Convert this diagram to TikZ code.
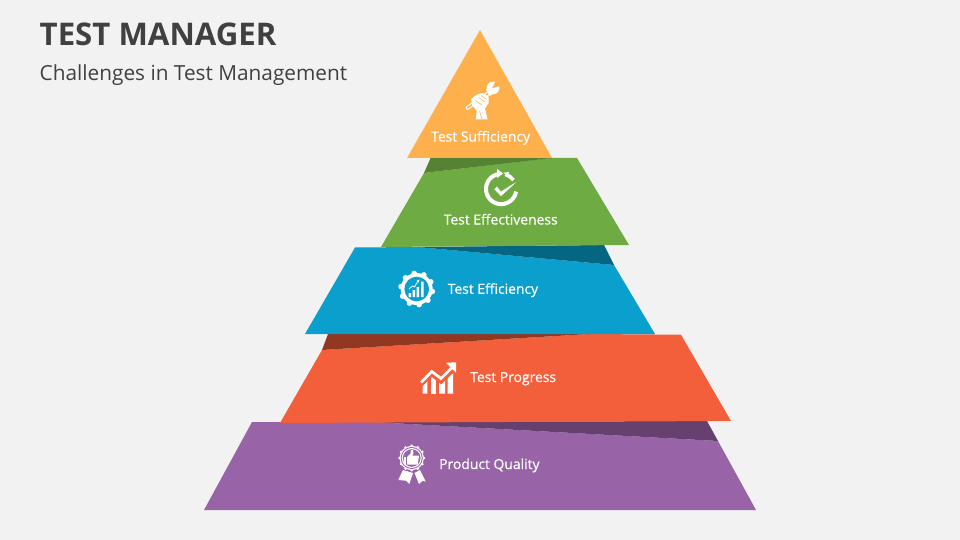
\documentclass[tikz,border=0pt]{standalone}
\usepackage{fontspec}
\setmainfont{Open Sans}
\newfontfamily\lblfont{Open Sans}[FakeBold=0.5]
\definecolor{bgc}{HTML}{F2F2F2}
\definecolor{tc}{HTML}{404040}
\definecolor{oc}{HTML}{FDB04B}
\definecolor{gc}{HTML}{6FAB43}
\definecolor{gd}{HTML}{568234}
\definecolor{bc}{HTML}{0A9FCD}
\definecolor{bd}{HTML}{056684}
\definecolor{rc}{HTML}{F45F3B}
\definecolor{rd}{HTML}{923822}
\definecolor{pc}{HTML}{9963A8}
\definecolor{pd}{HTML}{66406F}
\tikzset{
  tierlabel/.style={text=white,font=\lblfont\fontsize{13.9}{16}\selectfont,inner sep=0pt,anchor=base west},
}
\begin{document}
\begin{tikzpicture}[x=1pt,y=-1pt]
\fill[bgc] (0,0) rectangle (960,540);
\useasboundingbox (0,0) rectangle (960,540);
\node[anchor=base west,inner sep=0pt,text=tc,font=\fontsize{31.2}{36}\selectfont\bfseries] (title) at (39.5,45.5) {TEST MANAGER};
\node[anchor=base west,inner sep=0pt,text=tc,font=\fontsize{20.8}{24}\selectfont] (subtitle) at (39.5,80.5) {Challenges in Test Management};
% tiers
\fill[pc] (252,422) -- (372,422) -- (718,441) -- (756,510) -- (204,510) -- cycle;
\fill[pd] (372,422) -- (707,421) -- (718,441) -- cycle;
\fill[rc] (322,350) -- (590,334) -- (681,334.7) -- (731,421) -- (280,423) -- cycle;
\fill[rd] (328,334) -- (590,334) -- (322,350) -- cycle;
\fill[bc] (355,247.5) -- (417,247) -- (614,265) -- (655,334) -- (305,334) -- cycle;
\fill[bd] (417,247) -- (604,245) -- (614,265) -- cycle;
\fill[gc] (424,173) -- (550,158) -- (577,158) -- (629,245) -- (381,247) -- cycle;
\fill[gd] (431,157) -- (552,158) -- (424,173) -- cycle;
\fill[oc] (480,30) -- (552,158) -- (407,158) -- cycle;
% labels
\node[tierlabel] (l1) at (431,141.5) {Test Sufficiency};
\node[tierlabel] (l2) at (443.5,224.5) {Test Effectiveness};
\node[tierlabel] (l3) at (447.5,293.8) {Test Efficiency};
\node[tierlabel] (l4) at (470,382) {Test Progress};
\node[tierlabel] (l5) at (439,469) {Product Quality};
% wrench and fist
\draw[white,line width=4pt,line cap=round] (467.6,107.8) -- (489,93);
\draw[oc,line width=1.5pt,line cap=round] (467.6,107.8) -- (489,93);
\fill[white] (493,88) circle (6.4);
\fill[white] (486,90) -- (491,84) -- (495,92) -- (490,96) -- cycle;
\fill[oc] (492.3,88.2) -- (495.8,80.6) -- (501,85.8) -- cycle;
\fill[white] (471.2,99) .. controls (474,95.5) and (480,93) .. (483,93) -- (488.5,96.5) -- (488.5,103) -- (485,108.5) -- (487.6,119.5) -- (475.8,119.5) -- (476.8,111) -- (472,104.5) -- cycle;
\draw[oc,line width=.5pt] (475.5,100.5) -- (482,105) (478.5,97.5) -- (485,102) (481,95.5) -- (486.5,99) (479.5,111) -- (482,119.5);
% cycle check
\draw[white,line width=4pt] (501.2,189) ++(-100:15.2) arc[start angle=-100,end angle=-350,radius=15.2];
\draw[white,line width=3.6pt] (501.2,189) ++(-74:15.2) arc[start angle=-74,end angle=-36,radius=15.2];
\fill[white] (497,169) -- (503,173.5) -- (497,178) -- cycle;
\fill[white] (503.3,172.7) -- (509,172) -- (508,176) -- cycle;
\fill[white,draw=gc,line width=.7pt,line join=miter] (493.7,189.3) -- (497,185.7) -- (501,191) -- (521,178.5) -- (501,196.8) -- cycle;
% gear
\fill[white] (416.7,289) circle (16);
\foreach \a in {0,36,...,324}{\fill[white] (416.7,289) ++(\a+9:15.8) circle (2.8);}
\fill[bc] (416.7,289) circle (12.3);
\fill[white] (408.5,293) rectangle +(2.5,4) (412.5,290) rectangle +(2.5,7) (416.5,287) rectangle +(2.5,10) (421,281.5) rectangle +(2.6,15.5);
\draw[white,line width=.8pt] (409,289) -- (412.5,286) -- (414.5,287) -- (418,281);
\fill[white] (419.5,279.5) -- (416.5,280.8) -- (418.8,282.5) -- cycle;
% growth chart
\fill[white] (422.7,383) -- (427.3,379) -- (427.3,393.7) -- (422.7,393.7) -- cycle;
\fill[white] (430.7,375.5) -- (436,375.5) -- (436,393.7) -- (430.7,393.7) -- cycle;
\fill[white] (439,381.5) -- (445,379) -- (445,393.7) -- (439,393.7) -- cycle;
\fill[white] (447.7,373) -- (453,368) -- (453,393.7) -- (447.7,393.7) -- cycle;
\draw[rc,line width=4.4pt,line join=miter] (420.5,385) -- (431.7,374) -- (441,381.5) -- (453,370);
\draw[white,line width=2.8pt,line join=miter] (421,382.5) -- (431.7,371.5) -- (441,378.5) -- (452,367.5);
\fill[white] (456,362.3) -- (456,372.5) -- (446,362.8) -- cycle;
% ribbon badge
\fill[white] (403,470) -- (398.3,480) -- (406,480.7) -- (409.3,484) -- (413,473) -- cycle;
\fill[white] (420,470) -- (414.5,473) -- (419,484) -- (422.7,480.7) -- (425.7,481.7) -- cycle;
\fill[white] (411.7,458) circle (12.2);
\foreach \a in {0,30,...,330}{\fill[white] (411.7,458) ++(\a:12.2) circle (1.5);}
\fill[pc] (411.7,458) circle (11);
\fill[white] (411.7,458) circle (10);
\fill[pc] (411.7,458) circle (8.8);
\fill[white] (404,457) rectangle (406.4,464.5);
\fill[white] (407.2,457) -- (410.5,453.5) -- (411,449.8) -- (413,450.2) -- (413.5,453) -- (412.5,455.5) -- (418.8,455.5) -- (418.8,457.5) -- (417.6,464.5) -- (407.2,464.5) -- cycle;
\end{tikzpicture}
\end{document}
